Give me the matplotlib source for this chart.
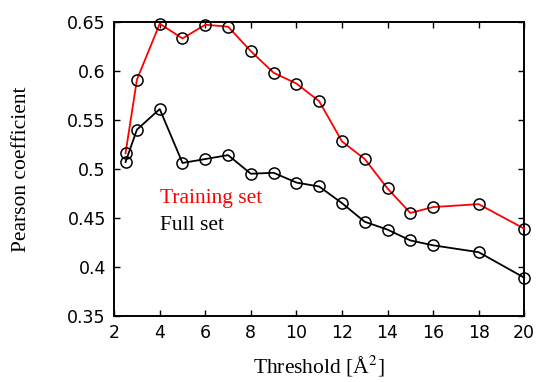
import numpy as np
import matplotlib
matplotlib.use("Agg")
import matplotlib.pyplot as plt

# Pearson correlation vs. threshold for the two data sets
threshold = [2.5, 3, 4, 5, 6, 7, 8, 9, 10, 11, 12, 13, 14, 15, 16, 18, 20]
training = [0.516, 0.591, 0.648, 0.633, 0.647, 0.645, 0.620, 0.598, 0.587,
            0.569, 0.528, 0.510, 0.480, 0.455, 0.461, 0.464, 0.439]
full = [0.507, 0.540, 0.561, 0.506, 0.510, 0.514, 0.495, 0.496, 0.486,
        0.482, 0.465, 0.446, 0.438, 0.427, 0.422, 0.415, 0.389]

series_labels = ["Training set", "Full set"]
series_colors = ["#ff0000", "#000000"]

xticks = np.arange(2, 21, 2)
yticks = [0.35, 0.4, 0.45, 0.5, 0.55, 0.6, 0.65]

serif = ["Liberation Serif", "DejaVu Serif"]
plt.rcParams['mathtext.fontset'] = 'stix'

fig = plt.figure(figsize=(5.41, 3.82), dpi=100)
ax = fig.add_axes([0.211, 0.173, 0.758, 0.770])

for ys, c in zip([training, full], series_colors):
    ax.plot(threshold, ys, color=c, lw=1.3, marker='o', markersize=8,
            markerfacecolor='none', markeredgecolor='black',
            markeredgewidth=1.1, clip_on=False, zorder=3)

ax.set_xlim(2, 20)
ax.set_ylim(0.35, 0.65)
ax.set_xticks(xticks)
ax.set_yticks(yticks)
ax.set_yticklabels([f"{v:g}" for v in yticks])
ax.tick_params(direction='in', length=4, width=1, top=True, right=True,
               labelsize=12.5, pad=6)
for s in ax.spines.values():
    s.set_linewidth(1.4)

ax.set_xlabel(r"Threshold [Å$^{\mathrm{2}}$]", fontsize=15.5, family=serif,
              labelpad=8)
ax.set_ylabel("Pearson coefficient", fontsize=15.5, family=serif, labelpad=26)

# text-only legend
for i, (lab, c) in enumerate(zip(series_labels, series_colors)):
    ax.text(0.113, 0.40 - i * 0.092, lab, color=c, fontsize=15.5,
            family=serif, transform=ax.transAxes, va='center', ha='left')

fig.savefig("out.png", dpi=100)
